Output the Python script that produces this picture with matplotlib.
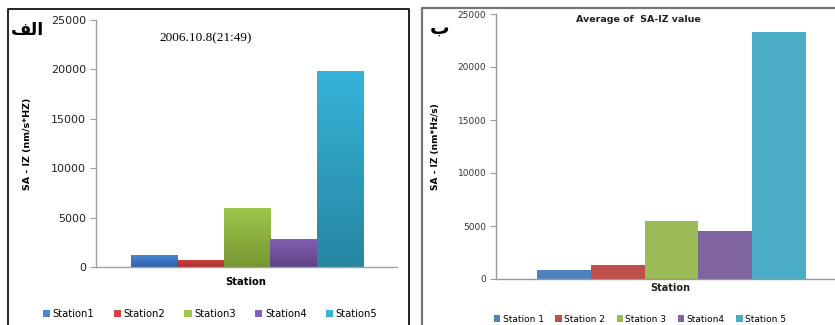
import matplotlib
matplotlib.use("Agg")
import matplotlib.pyplot as plt
import numpy as np
from matplotlib.colors import to_rgb, LinearSegmentedColormap
from matplotlib.patches import Patch
from matplotlib.lines import Line2D

# ---------------- data ----------------
stations_a = ["Station1", "Station2", "Station3", "Station4", "Station5"]
values_a = [1200, 750, 6000, 2800, 19800]
stations_b = ["Station 1", "Station 2", "Station 3", "Station4", "Station 5"]
values_b = [850, 1300, 5450, 4500, 23300]
yticks = [0, 5000, 10000, 15000, 20000, 25000]
title_a = "2006.10.8(21:49)"
title_b = "Average of  SA-IZ value"
ylabel_a = "SA - IZ (nm/s*HZ)"
ylabel_b = "SA - IZ (nm*Hz/s)"
xlabel = "Station"
label_a = "\uFED2\uFEDF\uFE8D"   # الف (visual order, presentation forms)
label_b = "ب"

colors_a_top = ["#4A86D6", "#D44340", "#A0C64E", "#8260B2", "#36B3D8"]
colors_a_bot = ["#2F62A8", "#A92E2B", "#76972F", "#5E4286", "#2686A2"]
colors_b = ["#4F81BD", "#C0504D", "#9BBB59", "#8064A2", "#4BACC6"]

W, H = 835, 325
fig = plt.figure(figsize=(W / 100, H / 100), dpi=100)
fig.patch.set_facecolor("white")

def fx(px):
    return px / W

def fy(py):
    return 1 - py / H

# ---------------- panel borders ----------------
fig.add_artist(Line2D([fx(8), fx(8), fx(409), fx(409)], [fy(330), fy(9), fy(9), fy(330)],
                      color="#111111", lw=1.3, transform=fig.transFigure))
fig.add_artist(Line2D([fx(422), fx(422), fx(836)], [fy(330), fy(8), fy(8)],
                      color="#777777", lw=1.6, transform=fig.transFigure))

# ---------------- left panel ----------------
axA = fig.add_axes([fx(96), fy(267), fx(397 - 96), fy(20) - fy(267)])
xa = np.arange(len(values_a))
barsA = axA.bar(xa, values_a, width=1.0, color="none", edgecolor="none")
for b, ct, cb in zip(barsA, colors_a_top, colors_a_bot):
    cmap = LinearSegmentedColormap.from_list("g", [to_rgb(cb), to_rgb(ct)])
    grad = np.linspace(0, 1, 64).reshape(-1, 1)
    x0, y0 = b.get_x(), b.get_y()
    im = axA.imshow(grad, cmap=cmap, origin="lower", aspect="auto",
                    extent=[x0, x0 + b.get_width(), y0, y0 + b.get_height()], zorder=2)
    im.set_clip_path(b)
axA.set_xlim(-1.254, 5.233)
axA.set_ylim(0, 25000)
axA.set_yticks(yticks)
axA.set_yticklabels([str(t) for t in yticks], fontsize=8, color="#222222")
axA.set_xticks([])
for s in ["top", "right"]:
    axA.spines[s].set_visible(False)
for s in ["left", "bottom"]:
    axA.spines[s].set_color("#A0A0A0")
    axA.spines[s].set_linewidth(1.0)
axA.tick_params(axis="y", length=4, color="#A0A0A0", pad=3)
axA.set_ylabel(ylabel_a, fontsize=6.8, fontweight="bold")
axA.yaxis.set_label_coords(fx(32 - 96) / fx(397 - 96), 0.5)
fig.text(fx(246), fy(282), xlabel, ha="center", va="center", fontsize=7.2, fontweight="bold")
fig.text(fx(206), fy(38), title_a, ha="center", va="center", fontsize=9.5,
         family="Liberation Serif")
fig.text(fx(27), fy(30), label_a, ha="center", va="center", fontsize=12.5, fontweight="bold")

handlesA = [Patch(facecolor=c, edgecolor="none") for c in colors_a_top]
legA = fig.legend(handlesA, stations_a, loc="center", bbox_to_anchor=(fx(210), fy(314)),
                  ncol=5, frameon=False, fontsize=7.2, handlelength=0.75, handleheight=0.75,
                  handletextpad=0.25, columnspacing=1.9, borderaxespad=0)

# ---------------- right panel ----------------
axB = fig.add_axes([fx(496), fy(279), fx(836 - 496), fy(14) - fy(279)])
xb = np.arange(len(values_b))
axB.bar(xb, values_b, width=1.0, color=colors_b, edgecolor="none", zorder=2)
axB.set_xlim(-1.262, 5.06)
axB.set_ylim(0, 25000)
axB.set_yticks(yticks)
axB.set_yticklabels([str(t) for t in yticks], fontsize=6.5, color="#333333")
axB.set_xticks([])
for s in ["top", "right"]:
    axB.spines[s].set_visible(False)
for s in ["left", "bottom"]:
    axB.spines[s].set_color("#999999")
    axB.spines[s].set_linewidth(1.0)
axB.tick_params(axis="y", length=4, color="#999999", pad=3)
axB.set_ylabel(ylabel_b, fontsize=6.5, fontweight="bold")
axB.yaxis.set_label_coords(fx(440 - 496) / fx(836 - 496), 0.5)
fig.text(fx(670), fy(288), xlabel, ha="center", va="center", fontsize=7, fontweight="bold",
         color="#222222")
fig.text(fx(638), fy(19), title_b, ha="center", va="center", fontsize=6.8, fontweight="bold",
         color="#222222")
fig.text(fx(440), fy(28), label_b, ha="center", va="center", fontsize=14, fontweight="bold")

handlesB = [Patch(facecolor=c, edgecolor="none") for c in colors_b]
legB = fig.legend(handlesB, stations_b, loc="center", bbox_to_anchor=(fx(640), fy(319)),
                  ncol=5, frameon=False, fontsize=6.5, handlelength=0.7, handleheight=0.7,
                  handletextpad=0.25, columnspacing=1.3, borderaxespad=0)

fig.savefig("out.png", dpi=100, facecolor="white")
